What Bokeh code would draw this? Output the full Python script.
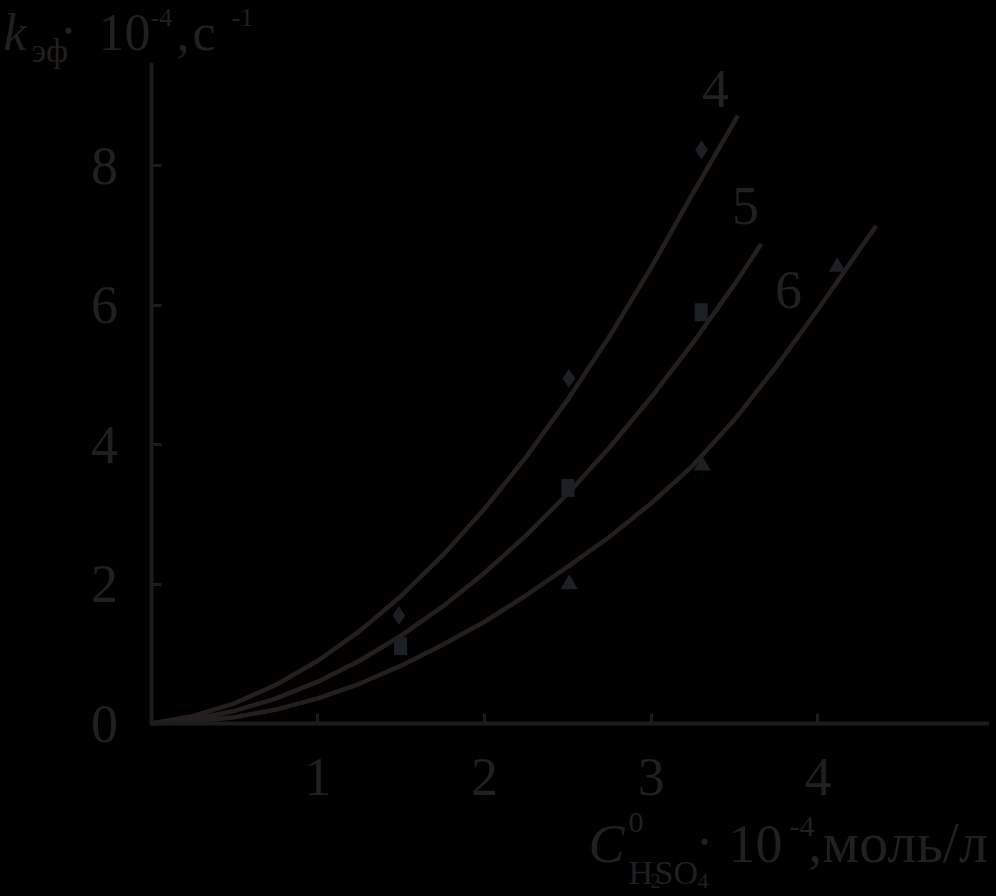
from bokeh.plotting import figure
from bokeh.models import FixedTicker, Label, Range1d, LinearAxis, GlobalInlineStyleSheet
from bokeh.embed import file_html
from bokeh.resources import INLINE

# ---------------- data ----------------
# fitted curves
fit4_x = [0, 0.25, 0.5, 0.75, 1.0, 1.25, 1.5, 1.75, 2.0, 2.25, 2.5, 2.75, 3.0, 3.25, 3.52]
fit4_y = [0, 0.105, 0.29, 0.555, 0.90, 1.325, 1.83, 2.415, 3.08, 3.825, 4.65, 5.555, 6.54, 7.605, 8.72]

fit5_x = [0, 0.25, 0.5, 0.75, 1.0, 1.25, 1.5, 1.75, 2.0, 2.25, 2.5, 2.75, 3.0, 3.25, 3.5, 3.66]
fit5_y = [0, 0.06, 0.18, 0.36, 0.60, 0.90, 1.26, 1.68, 2.16, 2.70, 3.30, 3.96, 4.68, 5.46, 6.30, 6.88]

fit6_x = [0, 0.25, 0.5, 0.75, 1.0, 1.25, 1.5, 1.75, 2.0, 2.25, 2.5, 2.75, 3.0, 3.25, 3.5, 3.75, 4.0, 4.25, 4.35]
fit6_y = [0, 0.03, 0.09, 0.20, 0.36, 0.57, 0.83, 1.13, 1.46, 1.84, 2.25, 2.68, 3.16, 3.70, 4.36, 5.12, 5.94, 6.80, 7.14]

# experimental points
pts4_x = [1.486, 2.506, 3.302]
pts4_y = [1.55, 4.95, 8.23]
pts5_x = [1.496, 2.50, 3.30]
pts5_y = [1.11, 3.38, 5.90]
pts6_x = [2.508, 3.306, 4.116]
pts6_y = [2.00, 3.70, 6.55]

x_ticks = [1, 2, 3, 4]
y_ticks = [0, 2, 4, 6, 8]
curve_names = ["4", "5", "6"]

# ---------------- styling ----------------
BG = "#000000"
CURVE = "#241f1e"
AXIS = "#1b1c1e"
TEXT = "#211f1f"
MARK = "#1c1f23"
FONT = "Liberation Serif"

W, H = 996, 896
X0, XS = 150.6, 166.7   # picture px of x=0, px per unit
Y0, YS = 723.0, 69.7    # picture px of y=0, px per unit


def dx(px):
    return (px - X0) / XS


def dy(py):
    return (Y0 - py) / YS


p = figure(width=W, height=H, output_backend="svg", toolbar_location=None,
           x_range=Range1d(dx(0), dx(W)), y_range=Range1d(dy(H), dy(0)),
           x_axis_type=None, y_axis_type=None, min_border=0)
p.stylesheets = [GlobalInlineStyleSheet(css="html, body { background: #000000; }")]

p.background_fill_color = BG
p.border_fill_color = BG
p.outline_line_color = None

xaxis = LinearAxis(fixed_location=0, bounds=(0, dx(987)), ticker=FixedTicker(ticks=x_ticks))
yaxis = LinearAxis(fixed_location=0, bounds=(0, dy(64)), ticker=FixedTicker(ticks=y_ticks))
for ax in (xaxis, yaxis):
    ax.axis_line_color = AXIS
    ax.axis_line_width = 4
    ax.axis_line_cap = "round"
    ax.major_tick_line_color = AXIS
    ax.major_tick_line_width = 3
    ax.major_tick_in = 10
    ax.major_tick_out = 0
    ax.minor_tick_line_color = None
    ax.major_label_text_font = FONT
    ax.major_label_text_font_size = "54px"
    ax.major_label_text_color = TEXT
xaxis.major_label_standoff = 35
yaxis.major_label_standoff = 33
p.add_layout(xaxis, "below")
p.add_layout(yaxis, "left")

# curves
for xs, ys in ((fit4_x, fit4_y), (fit5_x, fit5_y), (fit6_x, fit6_y)):
    p.line(xs, ys, line_color=CURVE, line_width=4.5, line_join="round")

# markers
p.scatter(pts4_x, pts4_y, marker="diamond", size=19, fill_color=MARK, line_color=None)
p.rect(pts5_x, pts5_y, width=13, height=18, width_units="screen", height_units="screen",
       fill_color=MARK, line_color=None)
p.scatter(pts6_x, pts6_y, marker="triangle", size=17, fill_color=MARK, line_color=None)


def lab(text, px, py, size, italic=False, align="left"):
    # py is the wanted alphabetic baseline in picture pixels
    p.add_layout(Label(x=dx(px), y=dy(py - 0.41 * size), text=text, text_font=FONT,
                       text_font_size=f"{size}px", text_color=TEXT,
                       text_font_style="italic" if italic else "normal",
                       text_align=align, text_baseline="alphabetic"))


# curve numbers
lab(curve_names[0], 715, 111, 54, align="center")
lab(curve_names[1], 745, 228, 54, align="center")
lab(curve_names[2], 788, 312, 54, align="center")

# y-axis title: k_эф · 10^-4, с^-1
lab("k", 3, 53, 52, italic=True)
lab("эф", 31, 64, 34)
lab("·", 68, 51, 52, align="center")
lab("10", 98, 53, 52)
lab("-4", 150, 28, 26)
lab(",", 176, 53, 52)
lab("с", 192, 53, 52)
lab("-1", 231, 28, 26)

# x-axis title: C^0_H2SO4 · 10^-4, моль/л
lab("C", 588, 866, 54, italic=True)
lab("0", 628, 834, 30)
lab("H", 628, 886, 34)
lab("2", 650, 889, 20)
lab("SO", 654, 886, 34)
lab("4", 697, 890, 22)
lab("·", 704, 864, 54, align="center")
lab("10", 728, 866, 54)
lab("-4", 789, 838, 30)
lab(",", 808, 866, 54)
lab("моль/л", 822, 866, 58)

open("out.html", "w").write(file_html(p, INLINE))
